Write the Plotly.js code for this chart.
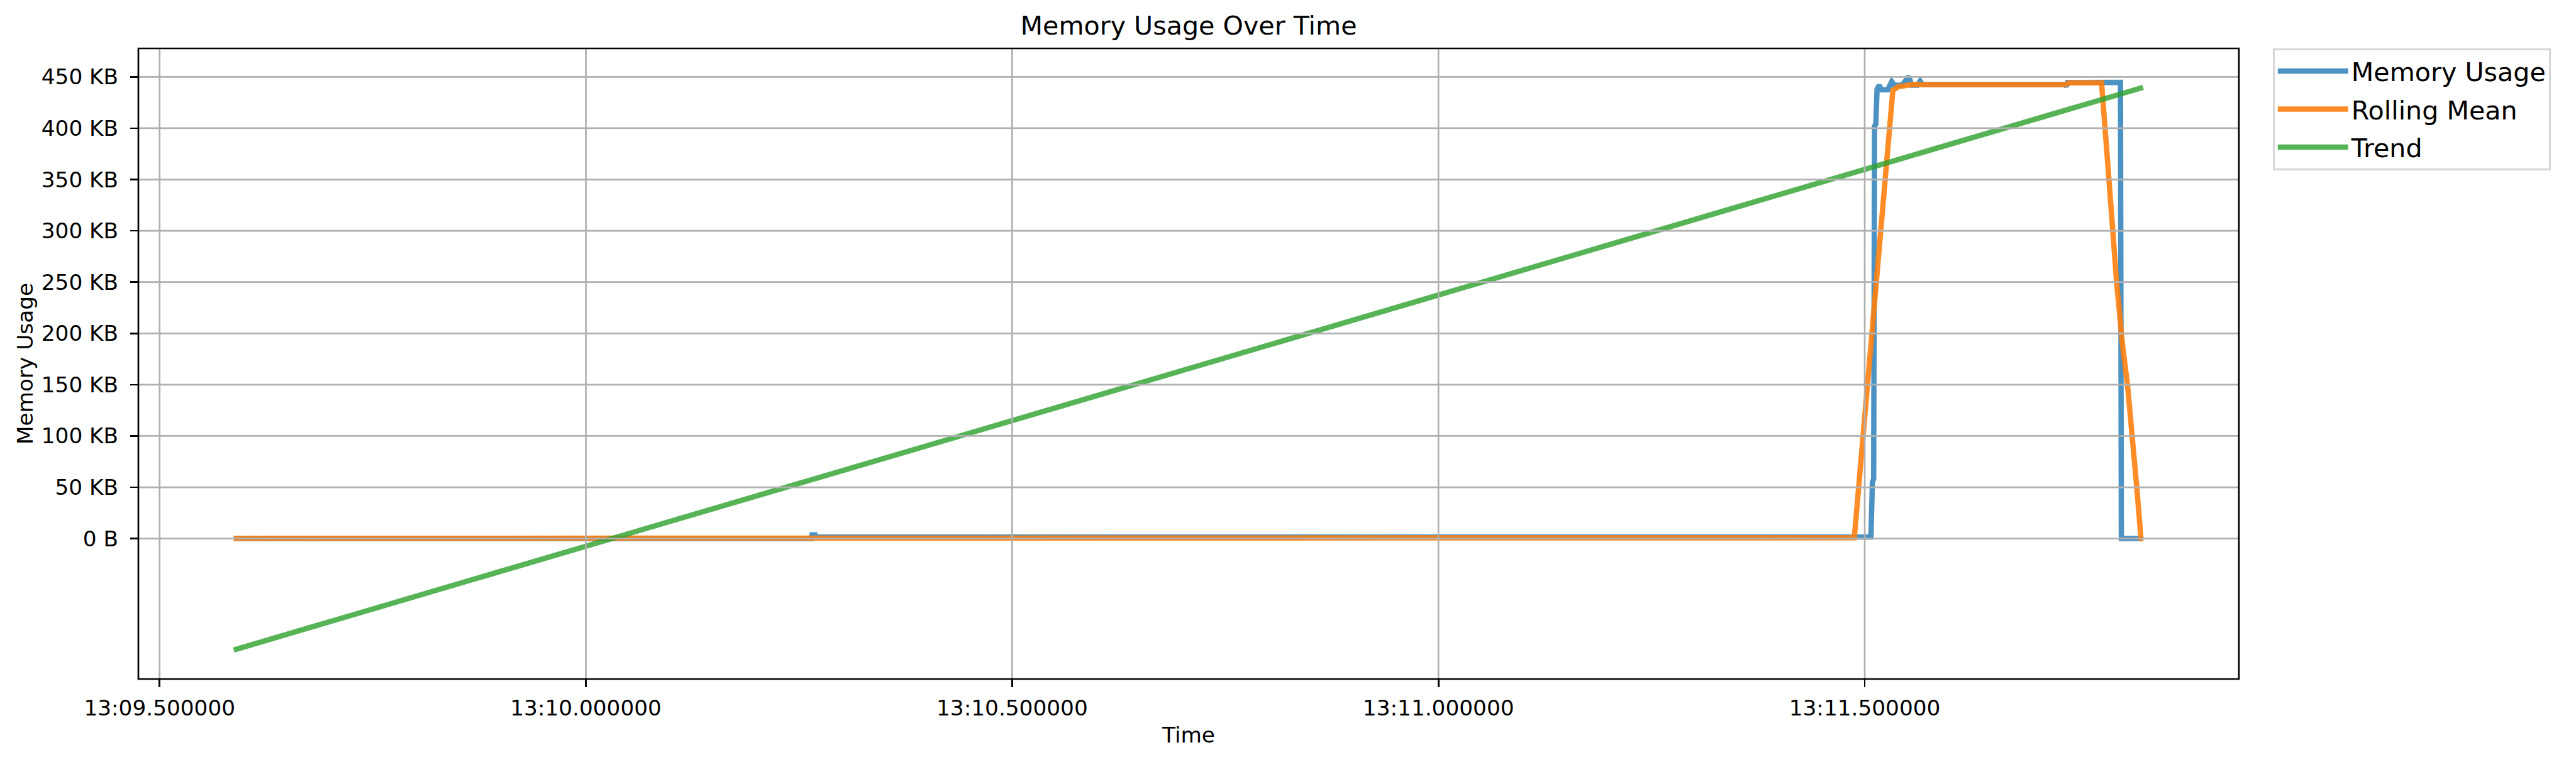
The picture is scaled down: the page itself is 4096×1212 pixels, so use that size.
<!DOCTYPE html>
<html>
<head>
<meta charset="utf-8">
<script src="https://cdn.plot.ly/plotly-3.0.1.min.js"></script>
<style>
  html, body { margin: 0; padding: 0; background: #fff; }
  #chart { width: 4096px; height: 1212px; }
</style>
</head>
<body>
<div id="chart"></div>
<script>
// ---- data (time as MM:SS.ffff within hour 00, memory in KB) ----
const memTimes = ["13:09.587","13:10.2645","13:10.2652","13:10.2688","13:10.2695","13:11.5073","13:11.5090","13:11.5105","13:11.5115","13:11.5130","13:11.5145","13:11.5170","13:11.5195","13:11.5270","13:11.5316","13:11.5345","13:11.5440","13:11.5517","13:11.5550","13:11.5620","13:11.5650","13:11.5680","13:11.7350","13:11.7365","13:11.7380","13:11.7700","13:11.7760","13:11.7800","13:11.8000","13:11.8010","13:11.8265"];
const memValues = [0, 0, 3.6, 3.6, 1.4, 1.4, 55, 58, 402, 404, 438, 442, 437.5, 437.5, 445.5, 442, 442, 450.5, 442, 442, 446, 442.5, 442.5, 440.5, 444.5, 444.7, 445.5, 444.7, 444.7, 0, 0];

const rollTimes = ["13:09.587","13:10.264","13:10.272","13:11.4878","13:11.5330","13:11.5395","13:11.5560","13:11.7350","13:11.7400","13:11.7778","13:11.7819","13:11.7857","13:11.7910","13:11.7954","13:11.8001","13:11.8025","13:11.8082","13:11.8143","13:11.8191","13:11.8240","13:11.8265"];
const rollValues = [0.15, 0.15, 0.8, 0.8, 437, 440.5, 442.5, 442.5, 444.3, 444.3, 400, 350, 300, 250, 200, 188, 150, 100, 50, 0, 0];

const trendTimes = ["13:09.587","13:11.8265"];
const trendValues = [-108.6, 439.8];

const xTickVals = ["13:09.5","13:10.0","13:10.5","13:11.0","13:11.5"];
const xTickText = ["13:09.500000","13:10.000000","13:10.500000","13:11.000000","13:11.500000"];
const yTickVals = [0, 50, 100, 150, 200, 250, 300, 350, 400, 450];
const yTickText = ["0 B","50 KB","100 KB","150 KB","200 KB","250 KB","300 KB","350 KB","400 KB","450 KB"];
const xRange = ["13:09.4751","13:11.9389"];
const yRange = [-136.9, 477.8];

const seriesNames = ["Memory Usage","Rolling Mean","Trend"];
const seriesColors = ["rgba(31,119,180,0.8)","rgba(255,127,14,0.9)","rgba(44,160,44,0.8)"];

// ---- helpers ----
const toDate = t => "2024-01-01 00:" + t;

const FONT = "DejaVu Sans, Verdana, sans-serif";
const LW = 8.5;

const traces = [
  {x: memTimes.map(toDate), y: memValues, name: seriesNames[0]},
  {x: rollTimes.map(toDate), y: rollValues, name: seriesNames[1]},
  {x: trendTimes.map(toDate), y: trendValues, name: seriesNames[2]}
].map((t, i) => Object.assign(t, {
  type: "scatter", mode: "lines",
  line: {color: seriesColors[i], width: LW},
  legendgroup: "g" + i
}));

const shapes = [];
yTickVals.forEach(v => shapes.push({
  type: "line", xref: "paper", yref: "y", x0: 0, x1: 1, y0: v, y1: v,
  line: {color: "#b0b0b0", width: 2.7}, layer: "above"
}));
xTickVals.forEach(v => shapes.push({
  type: "line", xref: "x", yref: "paper", x0: toDate(v), x1: toDate(v), y0: 0, y1: 1,
  line: {color: "#b0b0b0", width: 2.7}, layer: "above"
}));
shapes.push({
  type: "rect", xref: "paper", yref: "paper", x0: 0, x1: 1, y0: 0, y1: 1,
  line: {color: "#000", width: 2.7}, fillcolor: "rgba(0,0,0,0)", layer: "above"
});

const layout = {
  width: 4096, height: 1212,
  margin: {l: 220, r: 536, t: 77, b: 132, pad: 0},
  paper_bgcolor: "#fff", plot_bgcolor: "#fff",
  font: {family: FONT, color: "#000", size: 34.3},
  title: {
    text: "Memory Usage Over Time",
    font: {family: FONT, size: 41.2, color: "#000"},
    x: 0.5, xref: "paper", xanchor: "center",
    y: 1 - 41 / 1212, yref: "container", yanchor: "middle"
  },
  xaxis: {
    type: "date",
    range: xRange.map(toDate),
    tickmode: "array",
    tickvals: xTickVals.map(toDate),
    ticktext: xTickText,
    ticks: "outside", ticklen: 12, tickwidth: 2.7, tickcolor: "#000",
    ticklabelstandoff: 4,
    showgrid: false, zeroline: false, showline: false,
    tickfont: {family: FONT, size: 34.3, color: "#000"},
    title: {text: "Time", font: {family: FONT, size: 34.3, color: "#000"}, standoff: 11},
    automargin: false, fixedrange: true
  },
  yaxis: {
    range: yRange,
    tickmode: "array",
    tickvals: yTickVals, ticktext: yTickText,
    ticks: "outside", ticklen: 12, tickwidth: 2.7, tickcolor: "#000",
    ticklabelstandoff: 12,
    showgrid: false, zeroline: false, showline: false,
    tickfont: {family: FONT, size: 34.3, color: "#000"},
    title: {text: "Memory Usage", font: {family: FONT, size: 34.3, color: "#000"}, standoff: 2},
    automargin: false, fixedrange: true
  },
  legend: {
    x: 1.0162, y: 1, xanchor: "left", yanchor: "top",
    xref: "paper", yref: "paper",
    bgcolor: "#fff", bordercolor: "#d6d6d6", borderwidth: 2.7,
    font: {family: FONT, size: 41.2, color: "#000"},
    tracegroupgap: 4,
    itemwidth: 112
  },
  showlegend: true,
  shapes: shapes
};

Plotly.newPlot("chart", traces, layout, {displayModeBar: false, staticPlot: true});
</script>
</body>
</html>
